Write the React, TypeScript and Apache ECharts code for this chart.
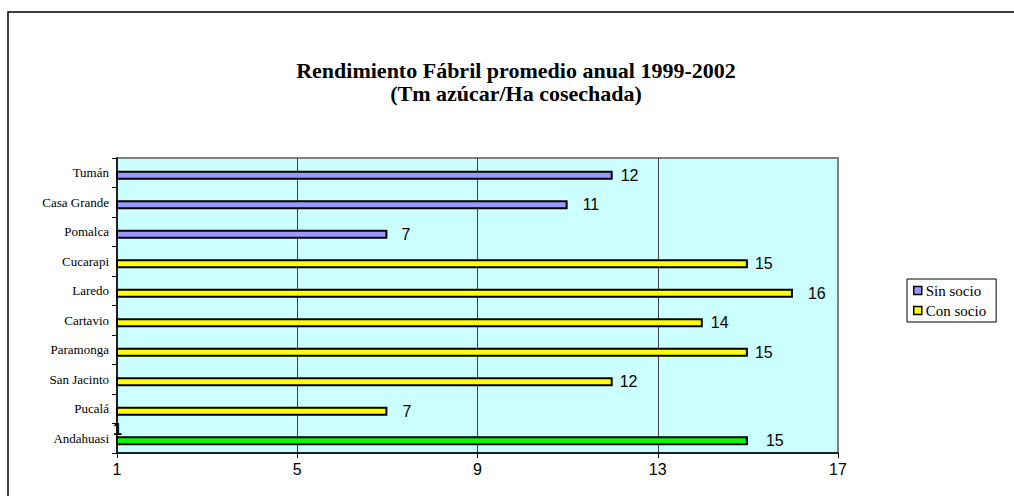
import React, { useEffect, useRef } from "react";
import * as echarts from "echarts";

const categories = ["Tumán", "Casa Grande", "Pomalca", "Cucarapi", "Laredo", "Cartavio", "Paramonga", "San Jacinto", "Pucalá", "Andahuasi"];
const sinSocio: (number | null)[] = [12, 11, 7, null, null, null, null, null, null, null];
const conSocio: (number | null)[] = [null, null, null, 15, 16, 14, 15, 12, 7, 15];
const xTicks = { min: 1, max: 17, interval: 4 };
const titleLines = ["Rendimiento Fábril promedio anual 1999-2002", "(Tm azúcar/Ha cosechada)"];
const seriesNames = ["Sin socio", "Con socio"];
const strayMark = "1";

// styling (not data)
const labelGap: Record<string, number> = {
  "Tumán": 8, "Casa Grande": 15, "Pomalca": 14, "Cucarapi": 7, "Laredo": 15,
  "Cartavio": 8, "Paramonga": 7, "San Jacinto": 7, "Pucalá": 15, "Andahuasi": 18,
};
const specialColor: Record<string, string> = { "Andahuasi": "#00FF00" };

const SERIF = "'Liberation Serif', 'DejaVu Serif', serif";
const SANS = "'Liberation Sans', Arial, sans-serif";

function buildData(values: (number | null)[], baseColor: string) {
  return values.map((v, i) => {
    const cat = categories[i];
    if (v === null) return "-";
    return {
      value: v,
      itemStyle: { color: specialColor[cat] || baseColor },
      label: { distance: labelGap[cat] },
    };
  });
}

export default function App() {
  const ref = useRef<HTMLDivElement>(null);
  useEffect(() => {
    document.body.style.margin = "0";
    if (!ref.current) return;
    const chart = echarts.init(ref.current, null, { renderer: "svg" });
    const barCommon = {
      type: "bar" as const,
      stack: "a",
      barWidth: 9,
      barGap: "-44%",
      label: {
        show: true,
        position: "right" as const,
        color: "#000",
        fontFamily: SANS,
        fontSize: 16,
      },
      itemStyle: { borderColor: "#000", borderWidth: 2 },
      emphasis: { disabled: true },
    };
    chart.setOption({
      animation: false,
      backgroundColor: "#fff",
      title: [
        {
          text: titleLines.join("\n"),
          left: 511,
          textAlign: "center",
          top: 54,
          textStyle: {
            fontFamily: SERIF,
            fontWeight: "bold",
            fontSize: 22,
            lineHeight: 23,
            color: "#000",
          },
        },
        {
          text: strayMark,
          left: 113,
          top: 421,
          padding: 0,
          z: 20,
          textStyle: { fontFamily: SANS, fontSize: 16, fontWeight: "bold", color: "#000" },
        },
      ],
      legend: {
        data: seriesNames,
        orient: "vertical",
        left: 907,
        top: 279,
        padding: [4, 10, 4, 6],
        itemGap: 5,
        itemWidth: 8,
        itemHeight: 8,
        borderColor: "#000",
        borderWidth: 1,
        borderRadius: 0,
        icon: "rect",
        itemStyle: { borderColor: "#000", borderWidth: 1.5 },
        textStyle: { fontFamily: SERIF, fontSize: 15, color: "#000", padding: [0, 0, 0, -1] },
      },
      grid: {
        left: 117,
        top: 158,
        width: 721,
        height: 295,
        show: true,
        backgroundColor: "#CCFFFF",
        borderColor: "#808080",
        borderWidth: 2,
      },
      xAxis: {
        type: "value",
        min: xTicks.min,
        max: xTicks.max,
        interval: xTicks.interval,
        axisLine: { show: true, lineStyle: { color: "#000", width: 1.5 } },
        axisTick: { show: true, length: 5, lineStyle: { color: "#000" } },
        axisLabel: { color: "#000", fontFamily: SANS, fontSize: 16, margin: 8 },
        splitLine: { show: true, showMinLine: false, showMaxLine: false, lineStyle: { color: "#404040", width: 1 } },
      },
      yAxis: {
        type: "category",
        data: categories,
        inverse: true,
        axisLine: { show: true, lineStyle: { color: "#000", width: 1.5 } },
        axisTick: { show: true, length: 5, lineStyle: { color: "#000" } },
        axisLabel: { color: "#000", fontFamily: SERIF, fontSize: 13, margin: 8 },
        splitLine: { show: false },
      },
      series: [
        { type: "bar", name: "_spacer", stack: "b", barWidth: 9, barGap: "-44%", data: categories.map(() => "-") },
        { ...barCommon, name: seriesNames[0], color: "#9999FF", data: buildData(sinSocio, "#9999FF") },
        { ...barCommon, name: seriesNames[1], color: "#FFFF00", data: buildData(conSocio, "#FFFF00") },
      ],
      graphic: [
        {
          type: "rect",
          shape: { x: 8, y: 12, width: 1200, height: 700 },
          style: { fill: "none", stroke: "#000", lineWidth: 1.5 },
          silent: true,
          z: 100,
        },
      ],
    });
    return () => chart.dispose();
  }, []);
  return <div ref={ref} style={{ width: 1014, height: 496 }} />;
}
